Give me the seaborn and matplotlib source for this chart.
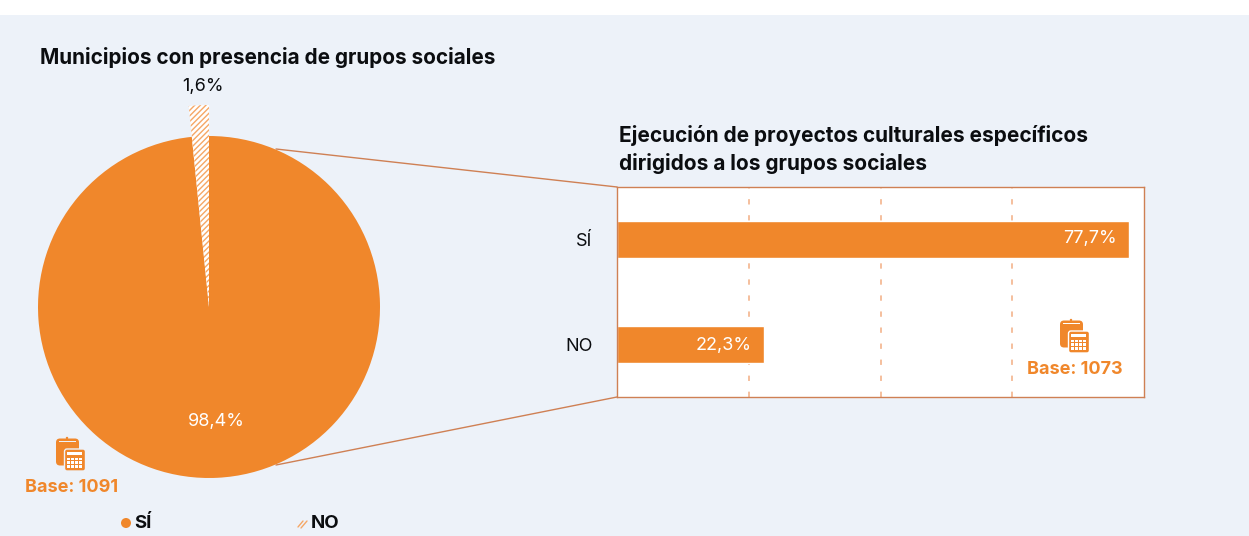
import matplotlib
matplotlib.use("Agg")
import matplotlib.pyplot as plt
import seaborn as sns
from matplotlib.patches import Rectangle, FancyBboxPatch, Circle

# Survey results (percentages)
pie_labels = ["SÍ", "NO"]
pie_values = [98.4, 1.6]
pie_text = ["98,4%", "1,6%"]
bar_categories = ["SÍ", "NO"]
bar_values = [77.7, 22.3]
bar_text = ["77,7%", "22,3%"]
grid_ticks = [20, 40, 60]
base_left = "Base: 1091"
base_right = "Base: 1073"
title_left = "Municipios con presencia de grupos sociales"
title_right = "Ejecución de proyectos culturales específicos\ndirigidos a los grupos sociales"

ORANGE = "#F0872B"
BG = "#EDF2F9"
LINE = "#CF8054"
GRID = "#F2AE82"
INK = "#0B0D10"
W, H = 1249, 536

sns.set_theme(style="white")
plt.rcParams["font.family"] = ["Inter", "DejaVu Sans"]
plt.rcParams["hatch.color"] = "#F5A766"
plt.rcParams["hatch.linewidth"] = 1.0

fig = plt.figure(figsize=(W / 100, H / 100), dpi=100, facecolor=BG)


def box(x0, y0, x1, y1):
    """Axes rectangle from pixel edges, with y counted from the top."""
    return [x0 / W, 1 - y1 / H, (x1 - x0) / W, (y1 - y0) / H]


# Canvas layer for the band and connectors
canvas = fig.add_axes([0, 0, 1, 1], zorder=0)
canvas.set_xlim(0, W)
canvas.set_ylim(H, 0)
canvas.axis("off")
canvas.add_patch(Rectangle((0, 0), W, 14.5, fc="white", ec="none"))
canvas.plot([276, 617], [149, 187], color=LINE, lw=1.0)
canvas.plot([276, 617], [465, 397], color=LINE, lw=1.0)

# Pie with the NO wedge pushed out beyond the main radius
R = 171
cx, cy = 209, 307
span = 1.25
pie_ax = fig.add_axes(box(cx - R * span, cy - R * span, cx + R * span, cy + R * span), zorder=1)
wedges, _ = pie_ax.pie(
    pie_values, startangle=90, counterclock=False, radius=1.0,
    colors=[ORANGE, "white"],
)
pie_ax.set_xlim(-span, span)
pie_ax.set_ylim(-span, span)
wedges[0].set(edgecolor="none")
wedges[1].set(radius=202 / R, hatch="//////", edgecolor="#F5A766", linewidth=0)
pie_ax.patch.set_alpha(0)
pie_ax.text(7.5 / R, -114.5 / R, pie_text[0], color="white", fontsize=13, ha="center", va="center")
pie_ax.text(-6 / R, 221 / R, pie_text[1], color=INK, fontsize=13, ha="center", va="center", clip_on=False)

# Horizontal bars
bar_ax = fig.add_axes(box(617, 187, 1144, 397), zorder=1, facecolor="white")
sns.barplot(x=bar_values, y=bar_categories, orient="h", color=ORANGE, saturation=1,
            width=0.36, ax=bar_ax)
bar_ax.set_xlim(0, 80)
bar_ax.set_ylim(1.5, -0.5)
bar_ax.set_xticks(grid_ticks)
bar_ax.set_xticklabels([])
bar_ax.tick_params(axis="both", length=0)
bar_ax.tick_params(axis="y", pad=17.5, labelsize=13, labelcolor=INK)
bar_ax.set_axisbelow(True)
bar_ax.grid(axis="x", color=GRID, lw=1.1, linestyle=(0, (3.5, 7)))
bar_ax.grid(axis="y", visible=False)
for spine in bar_ax.spines.values():
    spine.set_visible(True)
    spine.set_color(LINE)
    spine.set_linewidth(1.0)
for i, (value, label) in enumerate(zip(bar_values, bar_text)):
    bar_ax.annotate(label, (value, i), xytext=(-9, 1 if i == 0 else -1), textcoords="offset points",
                    color="white", fontsize=13, ha="right", va="center")

# Foreground layer: headings, base notes and key
top = fig.add_axes([0, 0, 1, 1], zorder=2)
top.set_xlim(0, W)
top.set_ylim(H, 0)
top.axis("off")
top.patch.set_alpha(0)


def calculator_icon(ax, x, y, halo):
    """Clipboard with a calculator in front, anchored at its top-left corner."""
    ax.add_patch(FancyBboxPatch((x + 2, y + 1.5), 23, 27, boxstyle="round,pad=0,rounding_size=4",
                                fc=ORANGE, ec="none"))
    ax.add_patch(Rectangle((x + 5, y + 4), 17, 1.4, fc=halo, ec="none"))
    ax.add_patch(Circle((x + 13, y + 1), 1.2, fc=ORANGE, ec="none"))
    ax.add_patch(FancyBboxPatch((x + 10.5, y + 12), 21, 22, boxstyle="round,pad=0,rounding_size=2.5",
                                fc=ORANGE, ec=halo, lw=1.0))
    ax.add_patch(Rectangle((x + 13.5, y + 15), 15, 3.4, fc="white", ec="none"))
    for row in range(3):
        for col in range(4):
            ax.add_patch(Rectangle((x + 13.5 + col * 3.9, y + 20.5 + row * 3.9), 2.6, 2.5, fc="white", ec="none"))


calculator_icon(top, 54, 437, BG)
calculator_icon(top, 1058, 319, "white")
top.text(71.5, 488, base_left, color=ORANGE, fontsize=13, fontweight="bold", ha="center", va="center")
top.text(1074.5, 370, base_right, color=ORANGE, fontsize=13, fontweight="bold", ha="center", va="center")

top.text(40, 57, title_left, color=INK, fontsize=14.9, fontweight="bold", ha="left", va="center")
top.text(619, 149.5, title_right, color=INK, fontsize=15, fontweight="bold", ha="left", va="center",
         linespacing=1.36)

# Key below the pie
top.add_patch(Circle((126, 523), 5, fc=ORANGE, ec="none"))
top.text(134, 523, pie_labels[0], color=INK, fontsize=13.4, fontweight="bold", ha="left", va="center")
top.plot([298, 303], [527, 521], color="#F5A766", lw=1.0)
top.plot([301, 307], [528, 521], color="#F5A766", lw=1.0)
top.text(311, 523, pie_labels[1], color=INK, fontsize=13.4, fontweight="bold", ha="left", va="center")

fig.savefig("out.png", dpi=100, facecolor=BG)
